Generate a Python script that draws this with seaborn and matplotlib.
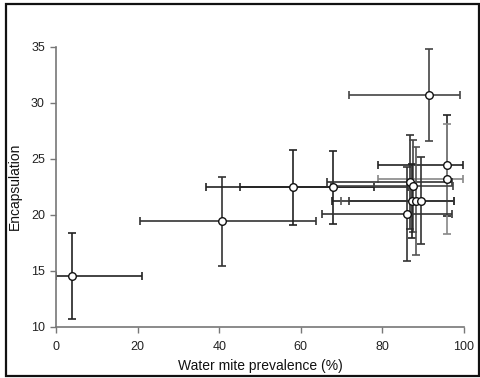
import matplotlib
matplotlib.use("Agg")
import matplotlib.pyplot as plt
import seaborn as sns
import pandas as pd
from matplotlib.patches import Rectangle

# Data
prevalence = [4.0, 40.8, 58.2, 68.0, 91.3, 95.8, 95.8, 86.8, 87.4, 87.3, 88.3, 89.4, 86.1]
encapsulation = [14.5, 19.4, 22.45, 22.45, 30.7, 24.4, 23.2, 22.9, 22.55, 21.25, 21.2, 21.25, 20.1]
prev_err_low = [4.0, 20.1, 21.5, 23.0, 19.5, 17.0, 17.0, 20.4, 20.0, 19.6, 18.5, 17.6, 21.0]
prev_err_high = [17.2, 22.9, 19.7, 18.3, 7.7, 4.0, 4.0, 10.3, 9.8, 10.3, 9.3, 8.2, 11.0]
encap_err = [3.85, 4.0, 3.35, 3.25, 4.1, 4.5, 4.9, 4.2, 4.1, 3.3, 4.8, 3.9, 4.2]

x_ticks = [0, 20, 40, 60, 80, 100]
y_ticks = [10, 15, 20, 25, 30, 35]

df = pd.DataFrame({"prev": prevalence, "enc": encapsulation})

sns.set_style("white")
plt.rcParams["font.family"] = ["Liberation Sans", "DejaVu Sans"]

fig = plt.figure(figsize=(4.81, 3.78), dpi=100)
ax = fig.add_axes([56 / 481, 1 - 326.7 / 378, (464 - 56) / 481, (326.7 - 46.7) / 378])

bar_colors = ["#222222", "#333333", "#222222", "#222222", "#444444", "#222222",
              "#888888", "#333333", "#444444", "#222222", "#555555", "#333333", "#333333"]
for i in range(len(prevalence)):
    ax.errorbar(prevalence[i], encapsulation[i],
                xerr=[[prev_err_low[i]], [prev_err_high[i]]],
                yerr=[[encap_err[i]], [encap_err[i]]],
                fmt="none", ecolor=bar_colors[i], elinewidth=1.2,
                capsize=3.2, capthick=1.2, zorder=2)

sns.scatterplot(data=df, x="prev", y="enc", ax=ax, marker="o", s=30,
                facecolor="white", edgecolor="#111111", linewidth=1.0, zorder=3)

ax.set_xlim(0, 100)
ax.set_ylim(10, 35)
ax.set_xticks(x_ticks)
ax.set_yticks(y_ticks)
ax.set_xlabel("Water mite prevalence (%)", fontsize=10, color="#111111")
ax.set_ylabel("Encapsulation", fontsize=10, color="#111111")
ax.xaxis.set_label_coords(0.5, -0.117)
ax.yaxis.set_label_coords(-0.083, 0.5)

for side in ["top", "right"]:
    ax.spines[side].set_visible(False)
for side in ["left", "bottom"]:
    ax.spines[side].set_color("#777777")
    ax.spines[side].set_linewidth(1.2)
ax.tick_params(axis="both", which="major", bottom=True, left=True,
               direction="out", length=4, width=1.0, color="#777777",
               labelsize=9, labelcolor="#222222")
ax.tick_params(axis="x", pad=6)
ax.tick_params(axis="y", pad=4)

fig.patches.append(Rectangle((5.5 / 481, 2 / 378), 473.5 / 481, 372 / 378,
                             transform=fig.transFigure, fill=False,
                             edgecolor="#111111", linewidth=1.6))

fig.savefig("out.png", dpi=100)
